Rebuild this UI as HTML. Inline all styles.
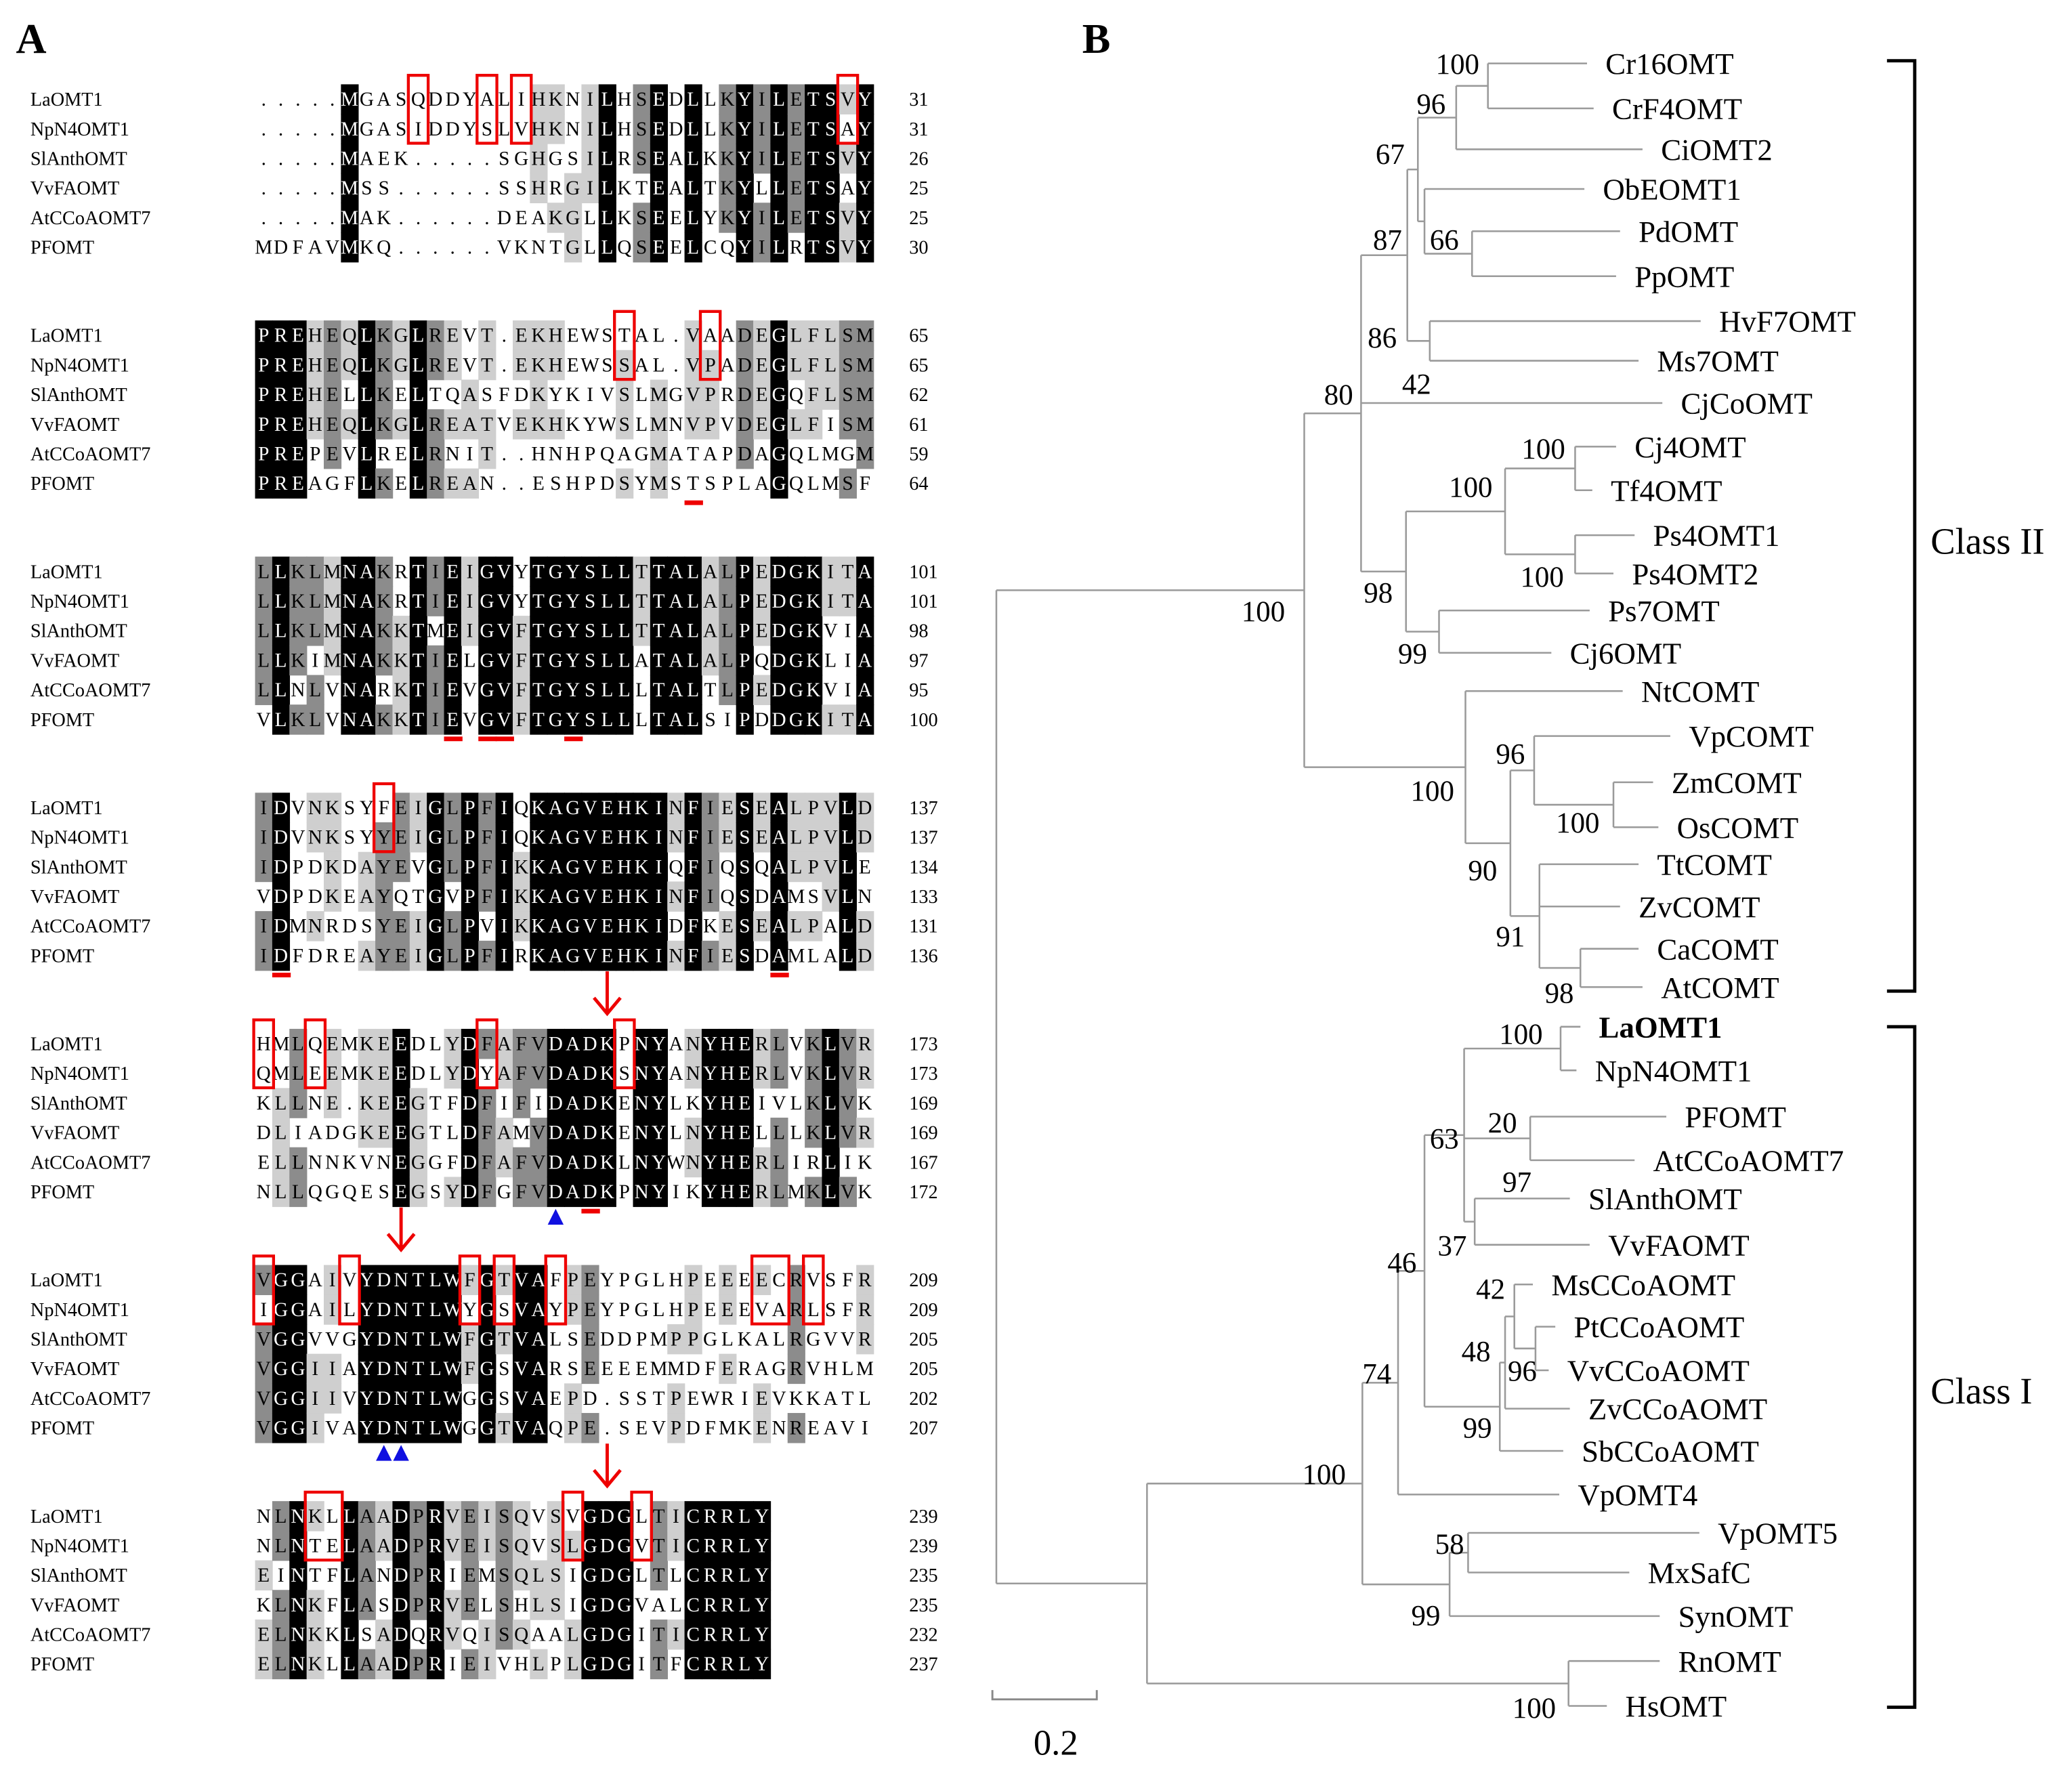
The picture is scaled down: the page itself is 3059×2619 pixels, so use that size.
<!DOCTYPE html>
<html><head><meta charset="utf-8"><style>
html,body{margin:0;padding:0;background:#fff;}
svg{display:block;font-family:"Liberation Serif",serif;}
</style></head><body>
<svg id="fig" xmlns="http://www.w3.org/2000/svg" width="3059" height="2619" viewBox="0 0 1568 1342.5">
<rect x="0" y="0" width="1568" height="1342.5" fill="#fff"/>
<text x="12" y="40" font-size="32" font-weight="bold">A</text>
<text x="819" y="40" font-size="32" font-weight="bold">B</text>
<g id="align"></g>
<g id="tree"></g>
</svg>
<script>
const names=["LaOMT1","NpN4OMT1","SlAnthOMT","VvFAOMT","AtCCoAOMT7","PFOMT"];
const blocks=[
["....."+"MGASQDDYALIHKNILHSEDLLKYILETSVY",".....MGASIDDYSLVHKNILHSEDLLKYILETSAY",".....MAEK.....SGHGSILRSEALKKYILETSVY",".....MSS......SSHRGILKTEALTKYLLETSAY",".....MAK......DEAKGLLKSEELYKYILETSVY","MDFAVMKQ......VKNTGLLQSEELCQYILRTSVY"],
["PREHEQLKGLREVT.EKHEWSTAL.VAADEGLFLSM","PREHEQLKGLREVT.EKHEWSSAL.VPADEGLFLSM","PREHELLKELTQASFDKYKIVSLMGVPRDEGQFLSM","PREHEQLKGLREATVEKHKYWSLMNVPVDEGLFISM","PREPEVLRELRNIT..HNHPQAGMATAPDAGQLMGM","PREAGFLKELREAN..ESHPDSYMSTSPLAGQLMSF"],
["LLKLMNAKRTIEIGVYTGYSLLTTALALPEDGKITA","LLKLMNAKRTIEIGVYTGYSLLTTALALPEDGKITA","LLKLMNAKKTMEIGVFTGYSLLTTALALPEDGKVIA","LLKIMNAKKTIELGVFTGYSLLATALALPQDGKLIA","LLNLVNARKTIEVGVFTGYSLLLTALTLPEDGKVIA","VLKLVNAKKTIEVGVFTGYSLLLTALSIPDDGKITA"],
["IDVNKSYFEIGLPFIQKAGVEHKINFIESEALPVLD","IDVNKSYYEIGLPFIQKAGVEHKINFIESEALPVLD","IDPDKDAYEVGLPFIKKAGVEHKIQFIQSQALPVLE","VDPDKEAYQTGVPFIKKAGVEHKINFIQSDAMSVLN","IDMNRDSYEIGLPVIKKAGVEHKIDFKESEALPALD","IDFDREAYEIGLPFIRKAGVEHKINFIESDAMLALD"],
["HMLQEMKEEDLYDFAFVDADKPNYANYHERLVKLVR","QMLEEMKEEDLYDYAFVDADKSNYANYHERLVKLVR","KLLNE.KEEGTFDFIFIDADKENYLKYHEIVLKLVK","DLIADGKEEGTLDFAMVDADKENYLNYHELLLKLVR","ELLNNKVNEGGFDFAFVDADKLNYWNYHERLIRLIK","NLLQGQESEGSYDFGFVDADKPNYIKYHERLMKLVK"],
["VGGAIVYDNTLWFGTVAFPEYPGLHPEEEECRVSFR","IGGAILYDNTLWYGSVAYPEYPGLHPEEEVARLSFR","VGGVVGYDNTLWFGTVALSEDDPMPPGLKALRGVVR","VGGIIAYDNTLWFGSVARSEEEEMMDFERAGRVHLM","VGGIIVYDNTLWGGSVAEPD.SSTPEWRIEVKKATL","VGGIVAYDNTLWGGTVAQPE.SEVPDFMKENREAVI"],
["NLNKLLAADPRVEISQVSVGDGLTICRRLY","NLNTELAADPRVEISQVSLGDGVTICRRLY","EINTFLANDPRIEMSQLSIGDGLTLCRRLY","KLNKFLASDPRVELSHLSIGDGVALCRRLY","ELNKKLSADQRVQISQAALGDGITICRRLY","ELNKLLAADPRIEIVHLPLGDGITFCRRLY"]];
const ends=[[31,31,26,25,25,30],[65,65,62,61,59,64],[101,101,98,97,95,100],[137,137,134,133,131,136],[173,173,169,169,167,172],[209,209,205,205,202,207],[239,239,235,235,232,237]];
const boxCols=[[9,13,15,34],[21,26],[],[7],[0,3,13,21],[0,5,12,14,17,29.5,32],[3.5,18,22]];
const boxWidths=[[1,1,1,1],[1,1],[],[1],[1,1,1,1],[1,1,1,1,1,2,1],[2,1,1]];
const redUnder=[[],[25],[11,13,14,18],[1,30],[19],[],[]];
const blueTri=[[],[],[],[],[17],[7,8],[]];
const arrowsBelow=[[3,20],[4,8],[5,20]];

const NS="http://www.w3.org/2000/svg";
function mk(tag,attrs,parent){const e=document.createElementNS(NS,tag);for(const k in attrs)e.setAttribute(k,attrs[k]);parent.appendChild(e);return e;}
const A=document.getElementById('align');
const X0=193,CW=13,RH=22.4,BY0=75,BSTEP=178.7;
const colX=c=>X0+CW*c;
blocks.forEach((blk,k)=>{
  const yc=r=>BY0+BSTEP*k+RH*r;
  const g=mk('g',{},A);
  
  
  const L=blk[0].length;
  for(let c=0;c<L;c++){
    const cnt={};blk.forEach(s=>{const ch=s[c];if(ch&&ch!=='.')cnt[ch]=(cnt[ch]||0)+1;});
    let best='',bn=0;for(const ch in cnt)if(cnt[ch]>bn){bn=cnt[ch];best=ch;}
    blk.forEach((s,r)=>{
      const ch=s[c];let fill=null,tc='#000';
      if(ch===best&&bn>=3){ if(bn===6){fill='#000';tc='#fff';} else if(bn===5){fill='#8c8c8c';} else {fill='#cfcfcf';} }
      if(fill){const rc=mk('rect',{x:colX(c),y:yc(r)-RH/2,width:CW+0.4,height:RH+0.4,fill:fill},g);
        
        }
      const t=mk('text',{x:colX(c)+CW/2,y:yc(r)+5,'font-size':15,'text-anchor':'middle',fill:tc},g);
      
      
      t.textContent=ch;
    });
  }
  blk.forEach((s,r)=>{
    const n=mk('text',{x:23,y:yc(r)+5,'font-size':14.5},g);
    
    
    n.textContent=names[r];
    const e=mk('text',{x:688,y:yc(r)+5,'font-size':14.5},g);
    
    
    e.textContent=ends[k][r];
  });
  boxCols[k].forEach((c,i)=>{
    const w=boxWidths[k][i];const cx=(c-(w-1)/2);
    const b=mk('rect',{x:colX(cx)-1,y:yc(0)-18,width:CW*w+2,height:RH+29,fill:'none',stroke:'#e00',"stroke-width":2.2},g);
    
    
  });
  redUnder[k].forEach(c=>{
    const u=mk('rect',{x:colX(c),y:yc(5)+13,width:CW+1,height:3.5,fill:'#e00'},g);
    
    
  });
  blueTri[k].forEach(c=>{
    const cx=colX(c)+CW/2,ty=yc(5)+13;
    const p=mk('polygon',{points:`${cx},${ty} ${cx-6},${ty+12} ${cx+6},${ty+12}`,fill:'#1010e0'},g);
    
    
  });
});
arrowsBelow.forEach(([k,c])=>{
  const cx=colX(c)+CW/2,y1=BY0+BSTEP*k+RH*5+12,y2=y1+32;
  const g=mk('g',{},A);
  
  
  mk('line',{x1:cx,y1:y1,x2:cx,y2:y2,stroke:'#e00','stroke-width':2.5},g);
  mk('polyline',{points:`${cx-10},${y2-12} ${cx},${y2} ${cx+10},${y2-12}`,fill:'none',stroke:'#e00','stroke-width':2.5},g);
});

/* ---- tree ---- */
const leafNames=["Cr16OMT","CrF4OMT","CiOMT2","ObEOMT1","PdOMT","PpOMT","HvF7OMT","Ms7OMT","CjCoOMT","Cj4OMT","Tf4OMT","Ps4OMT1","Ps4OMT2","Ps7OMT","Cj6OMT","NtCOMT","VpCOMT","ZmCOMT","OsCOMT","TtCOMT","ZvCOMT","CaCOMT","AtCOMT","LaOMT1","NpN4OMT1","PFOMT","AtCCoAOMT7","SlAnthOMT","VvFAOMT","MsCCoAOMT","PtCCoAOMT","VvCCoAOMT","ZvCCoAOMT","SbCCoAOMT","VpOMT4","VpOMT5","MxSafC","SynOMT","RnOMT","HsOMT"];
const leafY=[48,82,113,143,175,209,243,273,305,338,371,405,434,462,494,523,557,592,626,654,686,718,747,777,810,845,878,907,942,972,1004,1037,1066,1098,1131,1160,1190,1223,1257,1291];
const leafTip=[1201,1206,1243,1199,1226,1223,1287,1240,1258,1223,1205,1237,1221,1203,1174,1228,1264,1251,1255,1240,1226,1240,1243,1196,1193,1261,1237,1188,1203,1160,1177,1172,1188,1183,1180,1286,1233,1256,1256,1216];
const bsVals=[100,96,67,87,66,86,42,80,100,100,100,98,99,100,96,100,100,90,91,98,100,20,63,97,37,46,42,48,96,74,99,100,58,99,100];
const bsPos=[[1103,48],[1083,78],[1052,116],[1050,181],[1093,181],[1046,255],[1072,290],[1013,298],[1168,339],[1113,368],[1167,436],[1043,448],[1069,494],[956,462],[1143,570],[1084,598],[1194,622],[1122,658],[1143,708],[1180,751],[1151,782],[1137,849],[1093,861],[1148,894],[1099,942],[1061,955],[1128,975],[1117,1022],[1152,1037],[1042,1039],[1118,1080],[1002,1115],[1097,1168],[1079,1222],[1161,1292]];
const L=i=>({leaf:i});
const N=(x,ch)=>({x:x,ch:ch});
const treeRoot=N(754,[
 N(987,[
   N(1030,[
     N(1065,[ N(1073,[ N(1102,[N(1126,[L(0),L(1)]),L(2)]), N(1078,[L(3),N(1114,[L(4),L(5)])]) ]), N(1082,[L(6),L(7)]) ]),
     L(8),
     N(1064,[ N(1139,[N(1192,[L(9),L(10)]),N(1192,[L(11),L(12)])]), N(1089,[L(13),L(14)]) ])
   ]),
   N(1109,[ L(15), N(1143,[ N(1161,[L(16),N(1221,[L(17),L(18)])]), N(1165,[L(19),L(20),N(1196,[L(21),L(22)])]) ]) ])
 ]),
 N(868,[
   N(1031,[
     N(1058,[ N(1078,[ N(1108,[ N(1181,[L(23),L(24)]), N(1158,[L(25),L(26)]), N(1116,[L(27),L(28)]) ]),
                      N(1135,[ N(1139,[ N(1146,[L(29),N(1162,[L(30),L(31)])]), L(32) ]), L(33) ]) ]), L(34) ]),
     N(1097,[ N(1111,[L(35),L(36)]), L(37) ])
   ]),
   N(1187,[L(38),L(39)])
 ])
]);
const T=document.getElementById('tree');
function layout(n){ if(n.leaf!==undefined){n.y=leafY[n.leaf];n.x=leafTip[n.leaf];return;}
  n.ch.forEach(layout); n.y=(n.ch[0].y+n.ch[n.ch.length-1].y)/2; }
layout(treeRoot);
function drawNode(n){
  if(n.leaf!==undefined){
    const t=mk('text',{x:n.x+14,y:n.y+8,'font-size':23,'font-weight':n.leaf===23?'bold':'normal'},T);
    
    
    t.textContent=leafNames[n.leaf];
    return;}
  const ys=n.ch.map(c=>c.y);
  const v=mk('line',{x1:n.x,y1:Math.min(...ys),x2:n.x,y2:Math.max(...ys),stroke:'#9a9a9a','stroke-width':1.3},T);
  
  
  n.ch.forEach(c=>{
    const h=mk('line',{x1:n.x,y1:c.y,x2:c.x,y2:c.y,stroke:'#9a9a9a','stroke-width':1.3},T);
    
    
    drawNode(c);
  });
}
drawNode(treeRoot);
bsVals.forEach((v,i)=>{
  const t=mk('text',{x:bsPos[i][0],y:bsPos[i][1]+8,'font-size':22,'text-anchor':'middle'},T);
  
  
  t.textContent=v;
});
/* brackets and class labels */
[[46,750,"Class II",409],[777,1292,"Class I",1052]].forEach(([y1,y2,lab,ly])=>{
  const p=mk('polyline',{points:`1428,${y1} 1449,${y1} 1449,${y2} 1428,${y2}`,fill:'none',stroke:'#000','stroke-width':2.5},T);
  
  
  const t=mk('text',{x:1461,y:ly+10,'font-size':28},T);
  
  
  t.textContent=lab;
});
const sb=mk('polyline',{points:"751,1279 751,1286 830,1286 830,1279",fill:'none',stroke:'#888','stroke-width':1.5},T);


const st=mk('text',{x:799,y:1328,'font-size':27,'text-anchor':'middle'},T);


st.textContent="0.2";
</script>
</body></html>
